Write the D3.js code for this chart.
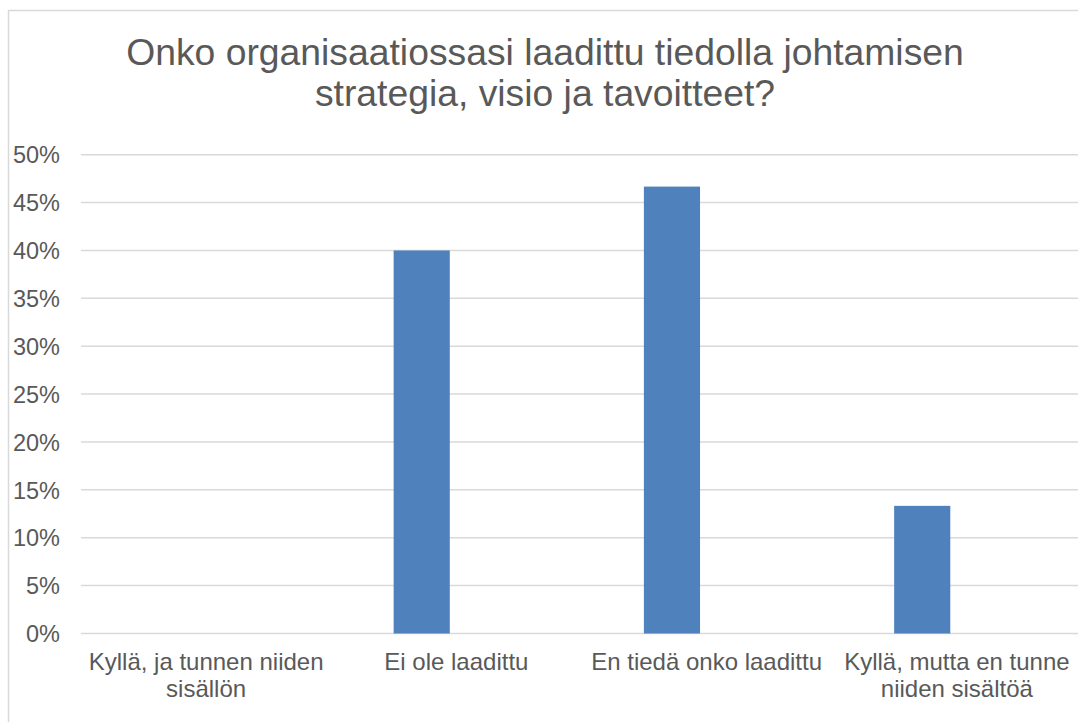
<!DOCTYPE html>
<html>
<head>
<meta charset="utf-8">
<script src="https://cdn.jsdelivr.net/npm/d3@7"></script>
<style>
  body { margin: 0; background: #fff; }
  svg { display: block; font-family: "Liberation Sans", Arial, sans-serif; }
  .grid line { stroke: #d9d9d9; stroke-width: 1.5; }
  .tick-label, .cat-label, .title { fill: #595959; }
</style>
</head>
<body>
<svg id="chart"></svg>
<script>
// data
const titleLines = ["Onko organisaatiossasi laadittu tiedolla johtamisen", "strategia, visio ja tavoitteet?"];
const categories = ["Kyllä, ja tunnen niiden sisällön", "Ei ole laadittu", "En tiedä onko laadittu", "Kyllä, mutta en tunne niiden sisältöä"];
const values = [0, 0.40, 0.4667, 0.1333];
const yTicks = [0, 0.05, 0.10, 0.15, 0.20, 0.25, 0.30, 0.35, 0.40, 0.45, 0.50];

const width = 1078;
const height = 722;

const svg = d3.select('#chart')
    .attr("width", width)
    .attr("height", height);

// chart border (runs off the right and bottom like the original)
svg.append("rect")
  .attr("x", 8.5).attr("y", 10.5)
  .attr("width", 1100).attr("height", 740)
  .attr("fill", "none")
  .attr("stroke", "#d9d9d9")
  .attr("stroke-width", 1.5);

// title
svg.append("text")
  .attr("class", "title")
  .attr("text-anchor", "middle")
  .attr("font-size", 37.3)
  .selectAll("tspan")
  .data(titleLines)
  .join("tspan")
  .attr("x", 545)
  .attr("y", (d, i) => 64.5 + i * 41.5)
  .text(d => d);

const plot = { left: 81, right: 1082, top: 154.7, bottom: 633.5 };

const x = d3.scaleBand()
  .domain(categories)
  .range([plot.left, plot.right]);

// inner band: bar sits in the first slot of a two-slot cluster
const xInner = d3.scaleBand()
  .domain([0, 1])
  .range([0, x.bandwidth()])
  .paddingInner(0.19)
  .paddingOuter(0.9);

const y = d3.scaleLinear()
  .domain([0, 0.5])
  .range([plot.bottom, plot.top]);

// gridlines
svg.append("g")
  .attr("class", "grid")
  .selectAll("line")
  .data(yTicks)
  .join("line")
  .attr("x1", plot.left)
  .attr("x2", plot.right)
  .attr("y1", d => y(d))
  .attr("y2", d => y(d));

// y axis labels
const yAxis = d3.axisLeft(y)
  .tickValues(yTicks)
  .tickFormat(d3.format(".0%"))
  .tickSize(0)
  .tickPadding(0);

const gy = svg.append("g")
  .attr("transform", "translate(60,0)")
  .call(yAxis);
gy.select(".domain").remove();
gy.selectAll("text")
  .attr("class", "tick-label")
  .attr("font-size", 23.5)
  .attr("font-family", null)
  .attr("dy", "0.35em");

// bars
svg.append("g")
  .selectAll("rect")
  .data(values)
  .join("rect")
  .attr("x", (d, i) => x(categories[i]) + xInner(0))
  .attr("width", xInner.bandwidth())
  .attr("y", d => y(d))
  .attr("height", d => y(0) - y(d))
  .attr("fill", "#4f81bd");

// category labels (wrapped)
const labelY = 670;
const catLabels = svg.append("g")
  .selectAll("text")
  .data(categories)
  .join("text")
  .attr("class", "cat-label")
  .attr("text-anchor", "middle")
  .attr("font-size", 24)
  .attr("x", d => x(d) + x.bandwidth() / 2)
  .attr("y", labelY);

catLabels.each(function (d) {
  const el = d3.select(this);
  const words = d.split(" ");
  const cx = x(d) + x.bandwidth() / 2;
  let line = [];
  let lineNo = 0;
  let tspan = el.append("tspan").attr("x", cx).attr("y", labelY);
  words.forEach(w => {
    line.push(w);
    tspan.text(line.join(" "));
    if (tspan.node().getComputedTextLength() > 242 && line.length > 1) {
      line.pop();
      tspan.text(line.join(" "));
      line = [w];
      lineNo++;
      tspan = el.append("tspan").attr("x", cx).attr("y", labelY + lineNo * 27).text(w);
    }
  });
});
</script>
</body>
</html>
